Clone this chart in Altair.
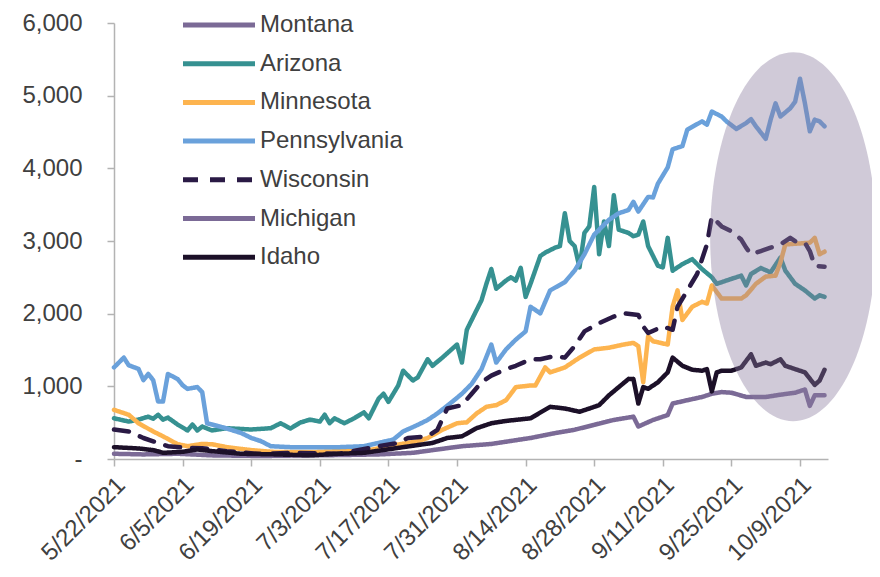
import altair as alt
import pandas as pd

# ---------------- data ----------------
STATES = ["Montana", "Arizona", "Minnesota", "Pennsylvania", "Wisconsin", "Michigan", "Idaho"]
COLORS = ["#7b6a96", "#369191", "#fdb44f", "#6aa1db", "#2a1a45", "#7b6a96", "#1c1028"]
DASHES = [[1, 0], [1, 0], [1, 0], [1, 0], [15, 12], [1, 0], [1, 0]]

START_DATE = "2021-05-22"
TICK_LABELS = ["5/22/2021", "6/5/2021", "6/19/2021", "7/3/2021", "7/17/2021", "7/31/2021",
               "8/14/2021", "8/28/2021", "9/11/2021", "9/25/2021", "10/9/2021"]
Y_TICKS = [0, 1000, 2000, 3000, 4000, 5000, 6000]

# days after 5/22/2021 and values
AZ_days = [0, 3, 5, 7, 8, 9, 10, 11, 13, 15, 16, 17, 18, 20, 23, 28, 32, 34, 36, 38, 40, 42, 43, 44, 45, 47, 49, 51, 52, 54,
           55, 56, 58, 59, 61, 62, 64, 65, 67, 70, 71, 72, 73, 75, 76, 77, 78, 80, 81, 82, 83, 84, 85, 87, 88, 90, 91, 92, 93, 94,
           95, 96, 97, 98, 99, 100, 101, 102, 103, 105, 106, 107, 108, 109, 111, 112, 113, 114, 116, 118,
           120, 122, 123, 126, 128, 129, 130, 132, 134, 136, 137, 139, 141, 143, 144, 145]
AZ_vals = [560, 515, 542, 582, 555, 609, 542, 569, 474, 393, 474, 393, 447, 393, 424, 406, 424, 492, 420, 501,
           542, 515, 609, 492, 560, 492, 560, 641, 560, 830, 898, 786, 1011, 1215, 1080, 1124, 1372, 1283, 1395, 1575,
           1327, 1778, 1914, 2185, 2411, 2614, 2343, 2456, 2501, 2456, 2630, 2231, 2411, 2794, 2840, 2908, 2930, 3382, 2998, 2930,
           2637, 3111, 3201, 3743, 2817, 3269, 2930, 3630, 3156, 3111, 3066, 3088, 3269, 2930, 2659, 2637, 3043, 2592, 2682, 2750,
           2614, 2501, 2411, 2479, 2523, 2388, 2546, 2628, 2569, 2772, 2592, 2411, 2320, 2208, 2253, 2231]

MN_days = [0, 3, 5, 8, 10, 13, 15, 18, 20, 23, 28, 33, 40, 46, 52, 58, 62, 64, 67, 70, 72, 74, 76, 78, 80, 81, 82, 85, 86, 88,
           89, 92, 95, 98, 101, 104, 106, 107, 108, 109, 110, 113, 114, 115, 116, 118, 120, 121, 122, 124,
           126, 128, 129, 131, 133, 135, 136, 137, 139, 142, 143, 144, 145]
MN_vals = [677, 609, 492, 379, 312, 203, 176, 207, 203, 163, 122, 95, 95, 108, 120, 199, 244, 289, 402, 492,
           505, 627, 718, 741, 809, 898, 989, 1012, 1012, 1260, 1192, 1260, 1395, 1508, 1531, 1575, 1598, 1553, 1056, 1689,
           1621, 1575, 2095, 2320, 1914, 2095, 2163, 2140, 2388, 2208, 2208, 2208, 2253, 2411, 2510, 2523, 2705, 2953, 2962, 2976,
           3043, 2817, 2853]

PA_days = [0, 2, 3, 5, 6, 7, 8, 9, 10, 11, 13, 14, 15, 17, 18, 19, 20, 23, 26, 28, 30, 32, 36, 41, 46, 51, 54, 57, 59, 62,
           64, 66, 69, 71, 73, 75, 77, 78, 80, 82, 84, 85, 87, 89, 92, 94, 96, 98, 101, 103,
           105, 106, 107, 109, 110, 111, 113, 114, 116, 117, 120, 121, 122, 124, 125, 127, 129, 130, 131, 133,
           134, 135, 136, 138, 139, 140, 141, 142, 143, 144, 145]
PA_vals = [1260, 1395, 1290, 1240, 1085, 1170, 1085, 790, 790, 1170, 1100, 1015, 965, 990, 920, 490, 475, 420, 356, 290,
           245, 176, 163, 163, 163, 176, 221, 267, 379, 470, 537, 627, 786, 898, 1034, 1237, 1575, 1327, 1508, 1643,
           1756, 2095, 2005, 2320, 2434, 2592, 2817, 3088, 3291, 3382, 3427, 3539, 3405, 3607, 3600, 3790, 4013, 4262, 4307, 4533,
           4646, 4601, 4781, 4713, 4646, 4542, 4623, 4677, 4578, 4406, 4669, 4894, 4713, 4826, 4917, 5232, 4894, 4510, 4669, 4646,
           4578]

WI_days = [0, 3, 6, 9, 11, 15, 18, 23, 30, 36, 46, 54, 58, 60, 64, 66, 68, 71, 73, 75, 77, 80, 82, 85, 87, 90, 92, 94, 96, 99,
           102, 104, 107, 108, 109, 112, 114, 115, 117, 119, 121, 122, 124, 126, 128, 129, 130, 132, 134, 136,
           138, 139, 141, 142, 143, 145]
WI_vals = [406, 379, 289, 221, 176, 153, 149, 108, 68, 85, 72, 176, 221, 289, 312, 402, 695, 741, 898, 1056,
           1147, 1237, 1283, 1372, 1372, 1418, 1395, 1553, 1756, 1869, 1960, 2005, 1982, 1824, 1734, 1824, 1778, 2095, 2320, 2546,
           2953, 3336, 3201, 3133, 3020, 2908, 2817, 2862, 2908, 2953, 3043, 2998, 2976, 2862, 2659, 2646]

MI_days = [0, 6, 13, 20, 30, 40, 46, 54, 61, 66, 71, 77, 85, 90, 94, 98, 102, 106, 107, 110,
           113, 114, 117, 120, 122, 124, 126, 129, 133, 136, 139, 141, 142, 143, 145]
MI_vals = [72, 63, 72, 50, 41, 50, 54, 63, 85, 131, 176, 207, 289, 356, 402, 470, 537, 582, 447, 537,
           605, 763, 809, 853, 898, 921, 912, 853, 853, 885, 912, 957, 731, 876, 876]

ID_days = [0, 5, 8, 10, 14, 17, 20, 26, 33, 40, 46, 51, 58, 65, 68, 71, 74, 77, 80, 85, 89, 92, 95, 97, 99, 101, 103, 105, 106, 107,
           108, 109, 111, 113, 114, 116, 118, 120, 121, 122, 123, 124, 126, 128, 130, 131, 133, 134, 136, 137,
           139, 141, 143, 144, 145]
ID_vals = [163, 145, 122, 85, 99, 131, 108, 72, 63, 50, 72, 85, 153, 221, 289, 312, 424, 492, 524, 560,
           718, 695, 650, 695, 741, 876, 989, 1101, 1101, 763, 989, 966, 1056, 1192, 1395, 1283, 1228, 1215, 1237, 930,
           1192, 1215, 1215, 1260, 1440, 1283, 1327, 1305, 1372, 1283, 1237, 1192, 1020, 1080, 1228]

# highlighted region (ellipse annotation) centre, in data units
ELLIPSE_CENTER_DAY = 138.6
ELLIPSE_CENTER_VALUE = 3060

SERIES = [("Arizona", AZ_days, AZ_vals), ("Minnesota", MN_days, MN_vals),
          ("Pennsylvania", PA_days, PA_vals), ("Wisconsin", WI_days, WI_vals),
          ("Michigan", MI_days, MI_vals), ("Idaho", ID_days, ID_vals)]

# ---------------- build table ----------------
start = pd.Timestamp(START_DATE)
FMT = "%Y-%m-%dT%H:%M:%S"
rows = []
for name, days, vals in SERIES:
    assert len(days) == len(vals), name
    for d, v in zip(days, vals):
        rows.append({"state": name, "date": (start + pd.Timedelta(days=d)).strftime(FMT), "value": v})
df = pd.DataFrame(rows)


def dt(ts):
    return alt.DateTime(year=ts.year, month=ts.month, date=ts.day, hours=ts.hour, minutes=ts.minute)


tick_values = [dt(pd.Timestamp(pd.to_datetime(t, format="%m/%d/%Y"))) for t in TICK_LABELS]
x_domain = [dt(start), dt(start + pd.Timedelta(hours=145 * 24 + 17))]

FONT = "Liberation Sans"
TXT = "#404040"
AX = "#b3b3b3"

legend_spec = alt.Legend(
    title=None, orient="none", legendX=84.5, legendY=-18.5, symbolType="M-2,0L2,0",
    symbolSize=1296, symbolStrokeWidth=5, labelFont=FONT, labelFontSize=24,
    labelColor=TXT, labelOffset=20.5, rowPadding=5.7, padding=0, direction="vertical",
)

axis_common = dict(grid=False, domainColor=AX, domainWidth=1.5, tickColor=AX, tickWidth=1.5, tickSize=7,
                   labelFont=FONT, labelColor=TXT, labelFlush=False, labelOverlap=False)

lines = alt.Chart(df).mark_line(strokeWidth=4.5, strokeJoin="round", strokeCap="round").encode(
    x=alt.X("date:T", title=None,
            scale=alt.Scale(domain=x_domain),
            axis=alt.Axis(values=tick_values, format="%-m/%-d/%Y", labelAngle=-45,
                          labelAlign="right", labelBaseline="alphabetic", labelOffset=12,
                          labelPadding=20, labelFontSize=24, **axis_common)),
    y=alt.Y("value:Q", title=None,
            scale=alt.Scale(domain=[0, 6000], nice=False),
            axis=alt.Axis(values=Y_TICKS, labelPadding=25, labelFontSize=24,
                          labelExpr="datum.value == 0 ? '-\u00a0\u00a0\u00a0\u00a0' : format(datum.value, ',')",
                          **axis_common)),
    color=alt.Color("state:N", scale=alt.Scale(domain=STATES, range=COLORS), legend=legend_spec),
    strokeDash=alt.StrokeDash("state:N", scale=alt.Scale(domain=STATES, range=DASHES), legend=legend_spec),
)

a = 0.45
k = 0.5523
ELLIPSE_PATH = (f"M {a},0 C {a},{k} {a*k:.4f},1 0,1 C {-a*k:.4f},1 {-a},{k} {-a},0 "
                f"C {-a},{-k} {-a*k:.4f},-1 0,-1 C {a*k:.4f},-1 {a},{-k} {a},0 Z")
ell_df = pd.DataFrame({
    "date": [(start + pd.Timedelta(days=ELLIPSE_CENTER_DAY)).strftime(FMT)],
    "value": [ELLIPSE_CENTER_VALUE],
})
ellipse = alt.Chart(ell_df).mark_point(
    shape=ELLIPSE_PATH, size=369 ** 2, filled=True, color="#897a9d", opacity=0.4, strokeWidth=0
).encode(x="date:T", y="value:Q")

chart = alt.layer(lines, ellipse).properties(
    width=714, height=436,
    padding={"left": 106, "top": 15, "right": 44, "bottom": 111},
    autosize=alt.AutoSizeParams(type="none"),
    background="white",
).configure_view(stroke=None)

chart.save("out.html", embed_options={"renderer": "svg", "actions": False})
